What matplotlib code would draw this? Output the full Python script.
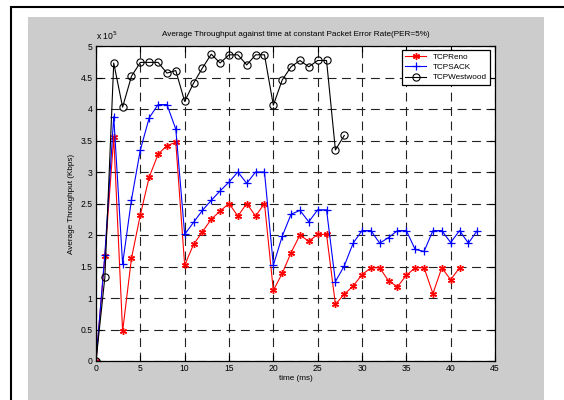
import matplotlib

matplotlib.use("Agg")
import matplotlib.pyplot as plt
from matplotlib.patches import Rectangle
from matplotlib.ticker import FuncFormatter

plt.rcParams["font.family"] = ["Liberation Sans", "DejaVu Sans"]

# throughput in units of 1e5 Kbps, sampled every 1 ms
reno_t = list(range(0, 42))
reno = [0, 1.66, 3.55, 0.47, 1.63, 2.32, 2.92, 3.28, 3.42, 3.47,
        1.52, 1.85, 2.05, 2.25, 2.38, 2.50, 2.30, 2.50, 2.30, 2.50,
        1.12, 1.39, 1.72, 2.00, 1.90, 2.01, 2.01, 0.90, 1.06, 1.19,
        1.37, 1.48, 1.48, 1.27, 1.18, 1.36, 1.48, 1.48, 1.07, 1.48,
        1.29, 1.48]

sack_t = list(range(0, 44))
sack = [0, 1.69, 3.88, 1.54, 2.56, 3.35, 3.86, 4.07, 4.07, 3.68,
        2.01, 2.20, 2.39, 2.55, 2.70, 2.84, 3.00, 2.82, 3.00, 3.00,
        1.52, 1.98, 2.33, 2.39, 2.21, 2.40, 2.40, 1.26, 1.51, 1.87,
        2.07, 2.07, 1.87, 1.96, 2.07, 2.07, 1.77, 1.74, 2.07, 2.07,
        1.88, 2.07, 1.87, 2.07]

westwood_t = list(range(0, 29))
westwood = [0, 1.33, 4.73, 4.03, 4.52, 4.74, 4.74, 4.74, 4.57, 4.61,
            4.12, 4.41, 4.65, 4.87, 4.73, 4.86, 4.86, 4.70, 4.86, 4.86,
            4.06, 4.46, 4.67, 4.77, 4.67, 4.77, 4.77, 3.35, 3.58]

x_ticks = list(range(0, 46, 5))
y_ticks = [i * 0.5 for i in range(11)]

FS = 5.9
TICK_FS = 6.2

fig = plt.figure(figsize=(5.64, 4.0), dpi=100)
fig.patch.set_facecolor("white")
fig.add_artist(Rectangle((28 / 564, 0), (544 - 28) / 564, (400 - 17) / 400,
                         transform=fig.transFigure, facecolor="#cccccc",
                         edgecolor="none", zorder=-10))
fig.add_artist(Rectangle((11 / 564, -0.1), 1.0, (400 - 7) / 400 + 0.1,
                         transform=fig.transFigure, fill=False,
                         edgecolor="black", lw=1.5, zorder=-5))

ax = fig.add_axes([96 / 564, 39 / 400, 399 / 564, 315 / 400])
ax.set_facecolor("white")

ax.plot(reno_t, reno, color="red", lw=0.8, marker=(6, 2, 0), ms=5,
        mew=1.0, label="TCPReno")
ax.plot(sack_t, sack, color="blue", lw=0.8, marker="+", ms=6,
        mew=0.9, label="TCPSACK")
ax.plot(westwood_t, westwood, color="black", lw=0.8, marker="o", ms=5.2,
        mfc="none", mew=0.8, label="TCPWestwood")

ax.set_xlim(0, 45)
ax.set_ylim(0, 5)
ax.set_xticks(x_ticks)
ax.set_yticks(y_ticks)
ax.yaxis.set_major_formatter(FuncFormatter(lambda v, p: "%g" % v))
ax.tick_params(direction="in", top=True, right=True, length=4, width=0.8,
               labelsize=TICK_FS, pad=2.5)
ax.grid(True, color="#222222", lw=0.8, ls=(0, (8, 5)))
ax.set_axisbelow(True)
for s in ax.spines.values():
    s.set_linewidth(0.9)

ax.set_title("Average Throughput against time at constant Packet Error Rate(PER=5%)",
             fontsize=FS, pad=7)
ax.set_xlabel("time (ms)", fontsize=FS, labelpad=1)
ax.set_ylabel("Average Throughput (Kbps)", fontsize=FS, labelpad=4)
ax.text(0.0, 1.012, r"x 10$^5$", transform=ax.transAxes, fontsize=TICK_FS,
        ha="left", va="bottom")

leg = ax.legend(loc="upper right", bbox_to_anchor=(0.988, 0.987),
                borderaxespad=0, fancybox=False, edgecolor="black",
                framealpha=1, fontsize=FS, handlelength=2.6,
                labelspacing=0.3, borderpad=0.4)
leg.get_frame().set_linewidth(0.9)

fig.savefig("out.png", dpi=100)
